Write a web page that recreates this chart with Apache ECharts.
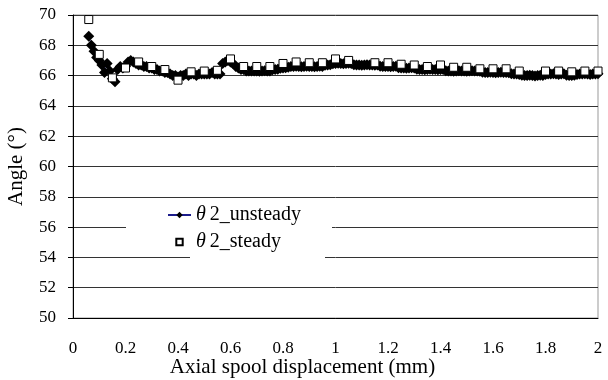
<!DOCTYPE html>
<html><head><meta charset="utf-8">
<script src="https://cdn.jsdelivr.net/npm/echarts@6/dist/echarts.min.js"></script>
<style>html,body{margin:0;padding:0;background:#fff}#c{width:608px;height:380px}</style>
</head><body><div id="c"></div>
<script>
const seriesNames = ['θ2_unsteady', 'θ2_steady'];
const xTicks = [0, 0.2, 0.4, 0.6, 0.8, 1, 1.2, 1.4, 1.6, 1.8, 2];
const yTicks = [50, 52, 54, 56, 58, 60, 62, 64, 66, 68, 70];

const steadyX = [0.06,0.10,0.15,0.20,0.25,0.30,0.35,0.40,0.45,0.50,0.55,0.60,0.65,0.70,0.75,0.80,0.85,0.90,0.95,1.00,1.05,1.15,1.20,1.25,1.30,1.35,1.40,1.45,1.50,1.55,1.60,1.65,1.70,1.80,1.85,1.90,1.95,2.00];
const steadyY = [69.7,67.4,65.85,66.5,66.9,66.6,66.4,65.7,66.25,66.3,66.35,67.1,66.6,66.6,66.6,66.8,66.9,66.85,66.85,67.1,67.0,66.85,66.85,66.75,66.7,66.6,66.7,66.55,66.55,66.45,66.45,66.45,66.3,66.3,66.3,66.25,66.3,66.3];

const unsteadyX = [0.06,0.07,0.08,0.09,0.10,0.11,0.12,0.13,0.14,0.15,0.16,0.17,0.18,0.19,0.20,0.21,0.22,0.23,0.24,0.25,0.26,0.27,0.28,0.29,0.30,0.31,0.32,0.33,0.34,0.35,0.36,0.37,0.38,0.39,0.40,0.41,0.42,0.43,0.44,0.45,0.46,0.47,0.48,0.49,0.50,0.51,0.52,0.53,0.54,0.55,0.56,0.57,0.58,0.59,0.60,0.61,0.62,0.63,0.64,0.65,0.66,0.67,0.68,0.69,0.70,0.71,0.72,0.73,0.74,0.75,0.76,0.77,0.78,0.79,0.80,0.81,0.82,0.83,0.84,0.85,0.86,0.87,0.88,0.89,0.90,0.91,0.92,0.93,0.94,0.95,0.96,0.97,0.98,0.99,1.00,1.01,1.02,1.03,1.04,1.05,1.06,1.07,1.08,1.09,1.10,1.11,1.12,1.13,1.14,1.15,1.16,1.17,1.18,1.19,1.20,1.21,1.22,1.23,1.24,1.25,1.26,1.27,1.28,1.29,1.30,1.31,1.32,1.33,1.34,1.35,1.36,1.37,1.38,1.39,1.40,1.41,1.42,1.43,1.44,1.45,1.46,1.47,1.48,1.49,1.50,1.51,1.52,1.53,1.54,1.55,1.56,1.57,1.58,1.59,1.60,1.61,1.62,1.63,1.64,1.65,1.66,1.67,1.68,1.69,1.70,1.71,1.72,1.73,1.74,1.75,1.76,1.77,1.78,1.79,1.80,1.81,1.82,1.83,1.84,1.85,1.86,1.87,1.88,1.89,1.90,1.91,1.92,1.93,1.94,1.95,1.96,1.97,1.98,1.99,2.00];
const unsteadyY = [68.6,68.0,67.6,67.2,67.0,66.7,66.2,66.8,66.3,65.8,65.6,66.4,66.6,66.5,66.6,66.9,67.0,66.9,66.8,66.7,66.7,66.6,66.6,66.5,66.5,66.4,66.4,66.3,66.3,66.2,66.2,66.1,66.0,66.0,65.9,66.0,66.0,66.1,66.0,66.1,66.1,66.0,66.1,66.1,66.1,66.1,66.1,66.2,66.1,66.1,66.1,66.8,66.9,67.0,66.9,66.8,66.6,66.5,66.4,66.4,66.3,66.3,66.3,66.3,66.3,66.28,66.3,66.32,66.3,66.3,66.38,66.4,66.42,66.48,66.5,66.52,66.55,66.6,66.6,66.62,66.6,66.58,66.6,66.62,66.6,66.6,66.58,66.6,66.62,66.6,66.68,66.7,66.72,66.78,66.8,66.82,66.8,66.78,66.8,66.82,66.8,66.72,66.7,66.7,66.68,66.7,66.72,66.7,66.7,66.68,66.7,66.62,66.6,66.6,66.6,66.58,66.6,66.62,66.52,66.5,66.5,66.48,66.5,66.52,66.5,66.42,66.4,66.4,66.38,66.4,66.42,66.4,66.4,66.38,66.4,66.4,66.32,66.3,66.3,66.28,66.3,66.32,66.3,66.3,66.28,66.3,66.32,66.3,66.3,66.28,66.22,66.2,66.2,66.22,66.2,66.18,66.2,66.22,66.2,66.2,66.18,66.12,66.1,66.1,66.08,66.02,66.0,66.0,66.02,66.0,65.98,66.0,66.02,66.0,66.08,66.1,66.1,66.12,66.1,66.08,66.1,66.12,66.02,66.0,66.0,66.02,66.08,66.1,66.1,66.12,66.1,66.08,66.1,66.1,66.12];

const serif = "'Liberation Serif','Times New Roman',serif";
const chart = echarts.init(document.getElementById('c'), null, {renderer: 'canvas'});
const legendFmt = n => '{i|θ}{n|\u2009' + n.slice(1) + '}';
chart.setOption({
  animation: false,
  backgroundColor: '#fff',
  grid: {left: 73, right: 10, top: 15, bottom: 62, show: true, borderColor: '#999', borderWidth: 1,
         containLabel: false, outerBoundsMode: 'none'},
  graphic: [
    {type: 'rect', z: 1, shape: {x: 126, y: 203, width: 206, height: 30}, style: {fill: '#fff'}},
    {type: 'rect', z: 1, shape: {x: 190, y: 233, width: 135, height: 28}, style: {fill: '#fff'}}
  ],
  legend: {
    orient: 'vertical', left: 167, top: 205, padding: 0, itemWidth: 23, itemHeight: 8, itemGap: 7, z: 5,
    data: seriesNames,
    formatter: legendFmt,
    textStyle: {color: '#000', fontFamily: serif, fontSize: 20,
      rich: {i: {fontStyle: 'italic', fontFamily: serif, fontSize: 20, color: '#000'},
             n: {fontFamily: serif, fontSize: 20, color: '#000'}}}
  },
  xAxis: {
    type: 'value', min: xTicks[0], max: xTicks[xTicks.length - 1], interval: 0.2,
    name: 'Axial spool displacement (mm)', nameLocation: 'middle', nameGap: 39, nameMoveOverlap: false,
    nameTextStyle: {color: '#000', fontFamily: serif, fontSize: 21, padding: [0, 66, 0, 0]},
    axisLine: {lineStyle: {color: '#000', width: 1}},
    axisTick: {show: false},
    splitLine: {show: false},
    axisLabel: {color: '#000', fontFamily: serif, fontSize: 17, margin: 22,
      formatter: v => String(Math.round(v * 10) / 10)}
  },
  yAxis: {
    type: 'value', min: yTicks[0], max: yTicks[yTicks.length - 1], interval: 2,
    name: 'Angle (°)', nameLocation: 'middle', nameGap: 46, nameRotate: 90, nameMoveOverlap: false,
    nameTextStyle: {color: '#000', fontFamily: serif, fontSize: 21},
    axisLine: {show: true, lineStyle: {color: '#000', width: 1}},
    axisTick: {show: true, length: 5, lineStyle: {color: '#000'}},
    splitLine: {show: true, lineStyle: {color: '#333', width: 1}},
    axisLabel: {color: '#000', fontFamily: serif, fontSize: 17, margin: 17}
  },
  series: [
    {
      name: seriesNames[0], type: 'line', z: 3,
      data: unsteadyX.map((x, i) => [x, unsteadyY[i]]),
      symbol: 'diamond', symbolSize: 11, showAllSymbol: true,
      itemStyle: {color: '#000'},
      lineStyle: {color: '#1c1c8c', width: 1}
    },
    {
      name: seriesNames[1], type: 'line', z: 4,
      data: steadyX.map((x, i) => [x, steadyY[i]]),
      symbol: 'rect', symbolSize: 8, showAllSymbol: true,
      itemStyle: {color: '#fff', borderColor: '#000', borderWidth: 1},
      lineStyle: {opacity: 0, width: 0}
    }
  ]
});
</script></body></html>
